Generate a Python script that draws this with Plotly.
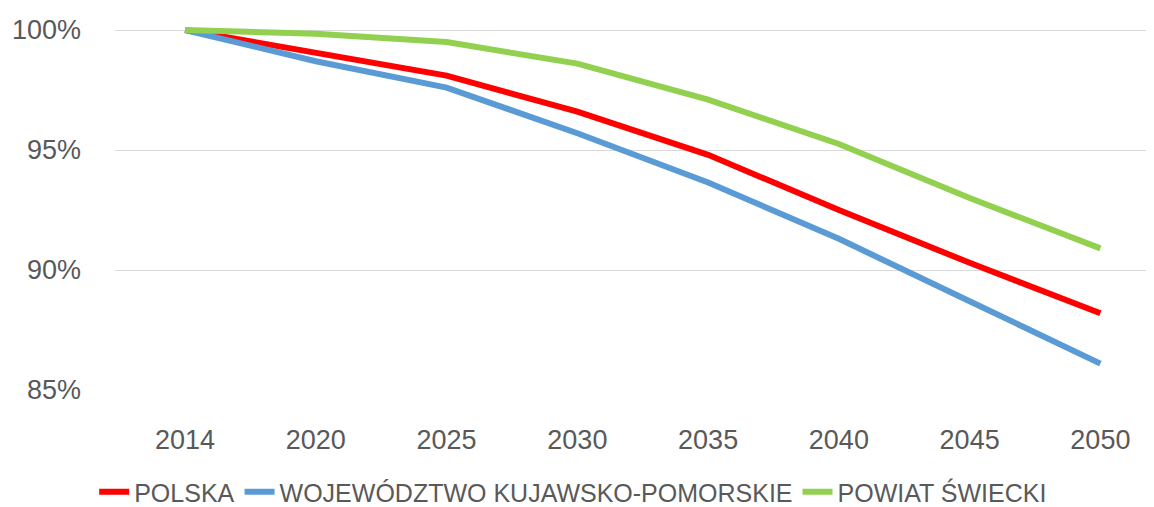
import plotly.graph_objects as go

years = ["2014", "2020", "2025", "2030", "2035", "2040", "2045", "2050"]
polska = [100, 99.05, 98.1, 96.6, 94.8, 92.5, 90.3, 88.2]
kujawsko_pomorskie = [100, 98.7, 97.6, 95.7, 93.65, 91.3, 88.7, 86.1]
swiecki = [100, 99.85, 99.5, 98.6, 97.1, 95.25, 93.0, 90.9]

series_names = ["POLSKA", "WOJEWÓDZTWO KUJAWSKO-POMORSKIE", "POWIAT ŚWIECKI"]
series_values = [polska, kujawsko_pomorskie, swiecki]
colors = ["#FF0000", "#5B9BD5", "#92D050"]

y_ticks = [85, 90, 95, 100]
y_tick_labels = ["85%", "90%", "95%", "100%"]

fig = go.Figure()
for name, vals, col in zip(series_names, series_values, colors):
    fig.add_trace(go.Scatter(x=years, y=vals, mode="lines", name=name,
                             line=dict(color=col, width=6)))

font_family = "Liberation Sans, Arial, sans-serif"
fig.update_layout(
    width=1146, height=499,
    margin=dict(l=107, r=0, t=17, b=117),
    paper_bgcolor="white", plot_bgcolor="white",
    font=dict(family=font_family, color="#595959", size=27),
    showlegend=True,
    legend=dict(orientation="h", x=0.441, xanchor="center",
                yref="container", y=0.03, yanchor="middle",
                font=dict(size=25, color="#595959"), itemwidth=30,
                traceorder="normal"),
    xaxis=dict(type="category", range=[-0.536, 7.41], showgrid=False, zeroline=False,
               showline=False, ticks="", ticklabelstandoff=31,
               tickfont=dict(size=27, color="#595959")),
    yaxis=dict(range=[85, 100.21], tickvals=y_ticks, ticktext=y_tick_labels,
               showgrid=True, gridcolor="#D9D9D9", gridwidth=1, zeroline=False,
               showline=False, ticks="", ticklabelstandoff=33,
               tickfont=dict(size=27, color="#595959")),
)

fig.write_html("out.html")
